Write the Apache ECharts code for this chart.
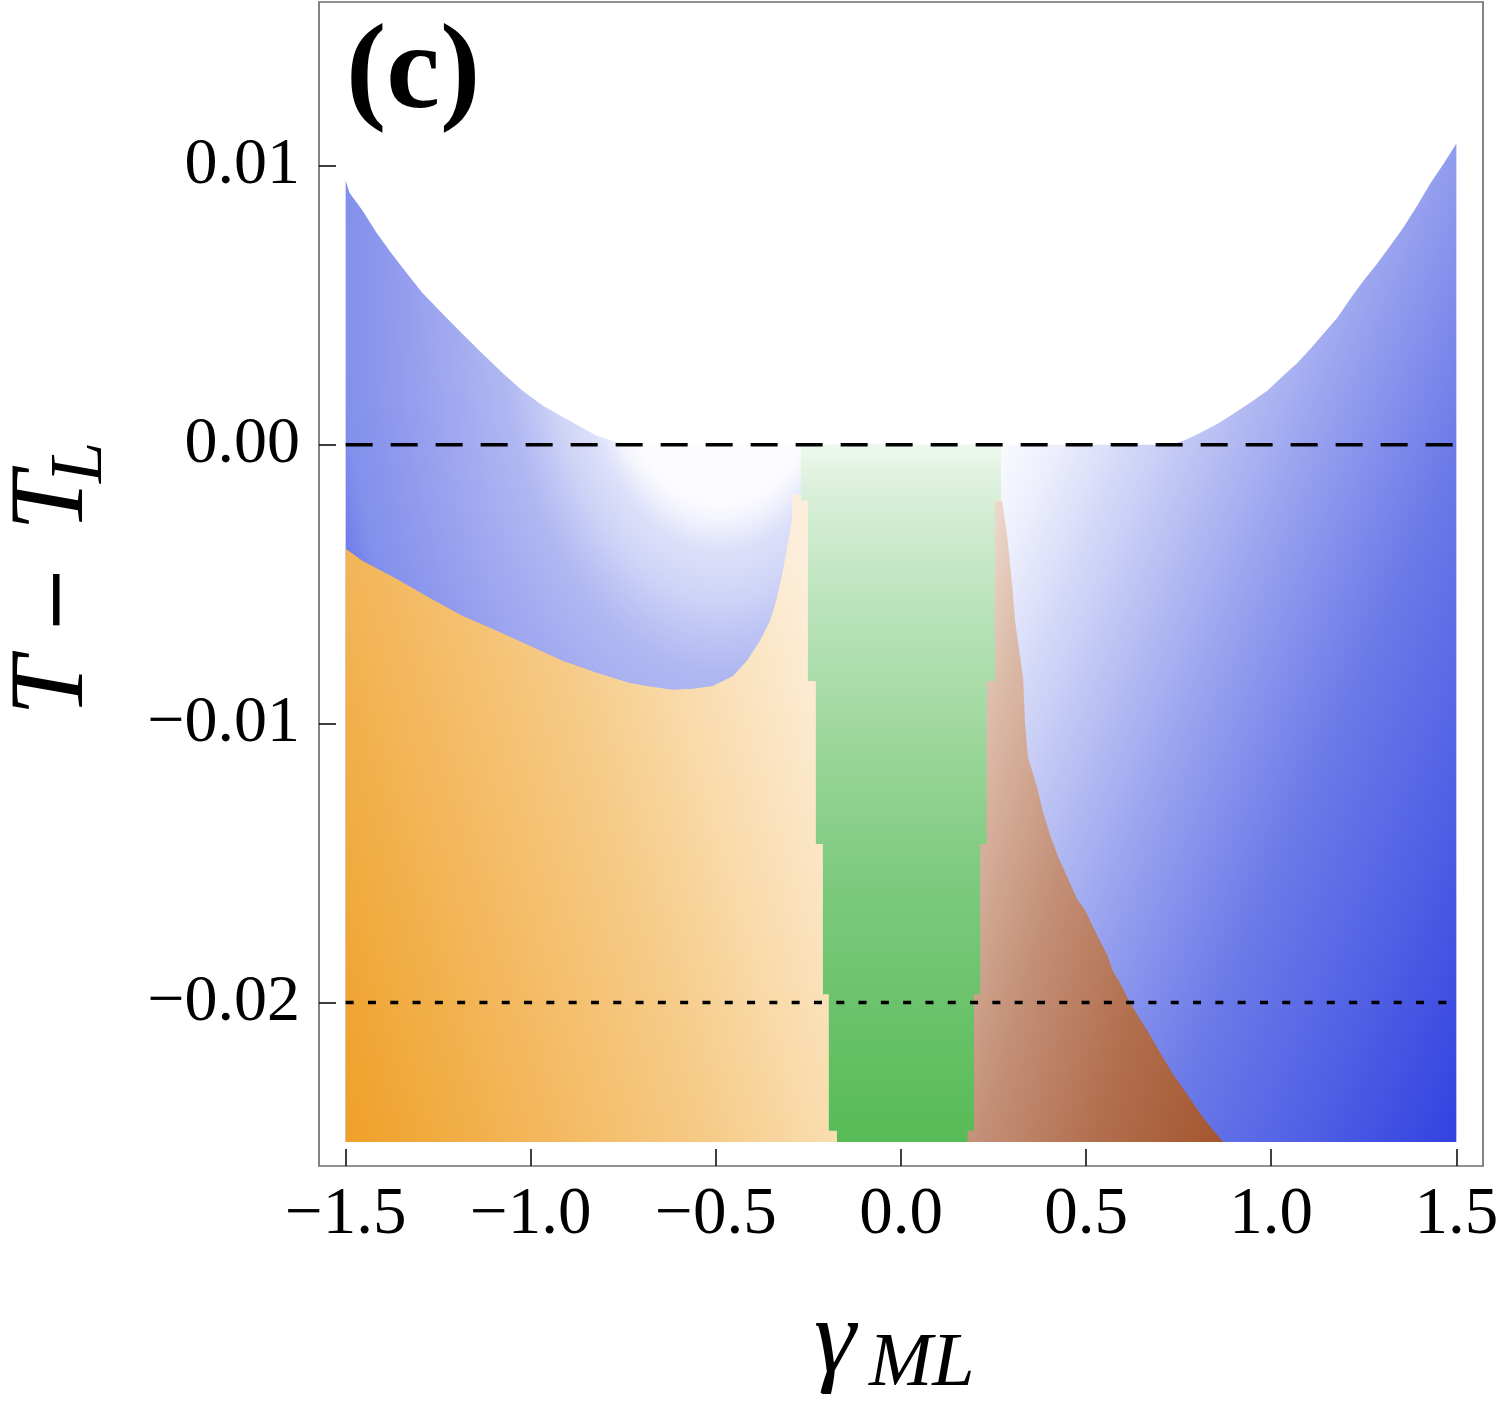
<!DOCTYPE html>
<html><head><meta charset="utf-8">
<script src="https://cdn.jsdelivr.net/npm/echarts@6/dist/echarts.min.js"></script>
<style>html,body{margin:0;padding:0;background:#fff}#c{width:1500px;height:1402px}</style>
</head><body><div id="c"></div>
<script>
// ---------- data ----------
const xTicks = [-1.5, -1.0, -0.5, 0, 0.5, 1.0, 1.5];
const xTickLabels = ['−1.5', '−1.0', '−0.5', '0.0', '0.5', '1.0', '1.5'];
const yTicks = [-0.02, -0.01, 0, 0.01];
const yTickLabels = ['−0.02', '−0.01', '0.00', '0.01'];
const xRange = [-1.572, 1.572];
const yRange = [-0.02586, 0.01587];
const xDataMin = -1.5, xDataMax = 1.5, yDataMin = -0.025;

// upper boundary of the left blue region
const leftCurve = [[-1.500,0.00947],[-1.490,0.00904],[-1.455,0.00840],[-1.417,0.00761],[-1.382,0.00696],[-1.347,0.00635],[-1.293,0.00545],[-1.239,0.00470],[-1.185,0.00398],[-1.131,0.00327],[-1.077,0.00258],[-1.023,0.00194],[-0.968,0.00140],[-0.895,0.00086],[-0.822,0.00032],[-0.779,0.00014],[-0.733,0]];
// upper boundary of the right blue region
const rightCurve = [[0.727,0],[0.763,0.00014],[0.809,0.00043],[0.855,0.00075],[0.898,0.00111],[0.944,0.00151],[0.990,0.00194],[1.033,0.00248],[1.071,0.00294],[1.106,0.00344],[1.141,0.00398],[1.179,0.00456],[1.214,0.00524],[1.249,0.00588],[1.287,0.00650],[1.322,0.00714],[1.357,0.00779],[1.395,0.00858],[1.430,0.00937],[1.466,0.01008],[1.500,0.01080]];
// upper boundary of the orange region
const orangeTop = [[-1.500,-0.00373],[-1.455,-0.00416],[-1.363,-0.00481],[-1.274,-0.00549],[-1.184,-0.00614],[-1.092,-0.00667],[-1.003,-0.00721],[-0.914,-0.00775],[-0.822,-0.00818],[-0.733,-0.00854],[-0.687,-0.00865],[-0.617,-0.00879],[-0.562,-0.00875],[-0.508,-0.00865],[-0.454,-0.00829],[-0.416,-0.00775],[-0.381,-0.00703],[-0.354,-0.00632],[-0.335,-0.00549],[-0.319,-0.00452],[-0.308,-0.00370],[-0.295,-0.00273],[-0.292,-0.00179]];
// green band: step edges
const stepY = [0, -0.0020, -0.00847, -0.01432, -0.0197, -0.0246, -0.025];
const greenLeftX = [-0.270, -0.2515, -0.230, -0.211, -0.195, -0.173];
const greenRightX = [0.270, 0.254, 0.231, 0.214, 0.197, 0.180];
// right boundary of the brown region
const brownEdge = [[0.273,-0.0020],[0.287,-0.0033],[0.300,-0.0050],[0.308,-0.0063],[0.330,-0.0084],[0.335,-0.0100],[0.343,-0.0112],[0.368,-0.0123],[0.384,-0.0132],[0.403,-0.0140],[0.425,-0.0148],[0.449,-0.0155],[0.476,-0.0163],[0.498,-0.0167],[0.519,-0.0173],[0.538,-0.0178],[0.557,-0.0183],[0.573,-0.0189],[0.592,-0.0193],[0.611,-0.0198],[0.627,-0.0202],[0.646,-0.0206],[0.665,-0.0210],[0.700,-0.0218],[0.736,-0.0226],[0.773,-0.0233],[0.809,-0.0240],[0.844,-0.0246],[0.871,-0.0250]];
// reference lines
const dashedY = 0;
const dottedY = -0.02;

// ---------- polygons built from the arrays ----------
const blueLeftPoly = [[xDataMin, yDataMin]].concat(leftCurve, [[0, 0], [0, yDataMin]]);
const blueRightPoly = [[0, yDataMin], [0, 0]].concat(rightCurve, [[xDataMax, yDataMin]]);
const lastO = orangeTop[orangeTop.length - 1];
const orangePoly = [[xDataMin, yDataMin]].concat(orangeTop, [[-0.17, lastO[1]], [-0.17, yDataMin]]);
const brownPoly = [[0.17, brownEdge[0][1]]].concat(brownEdge, [[0.17, yDataMin]]);
const greenPoly = [];
for (let i = 0; i < greenLeftX.length; i++) { greenPoly.push([greenLeftX[i], stepY[i]], [greenLeftX[i], stepY[i + 1]]); }
for (let i = greenRightX.length - 1; i >= 0; i--) { greenPoly.push([greenRightX[i], stepY[i + 1]], [greenRightX[i], stepY[i]]); }

// ---------- styles ----------
function stopsOf(stops) { return stops.map(s => ({ offset: s[0], color: s[1] })); }
function linear(api, a, b, stops) {
  const p = api.coord(a), q = api.coord(b);
  return { type: 'linear', x: p[0], y: p[1], x2: q[0], y2: q[1], global: true, colorStops: stopsOf(stops) };
}
// elliptical shading: polygon drawn in a y-scaled local frame
const blueLeftShade = { center: [-0.489, 0.00517], rx: 1.136, squash: 1.7,
  stops: [[0,'#ffffff'],[0.28,'#fcfcff'],[0.305,'#f4f5fd'],[0.32,'#eceefc'],[0.35,'#dde0f9'],[0.41,'#d0d5f7'],[0.49,'#b8bff3'],[0.52,'#b0b8f2'],[0.75,'#949dee'],[0.9,'#8190ec'],[0.96,'#6c7be8'],[1,'#6676e7']] };
const fills = {
  blueRight: api => linear(api, [0.416, 0.00617], [2.155, -0.00373],
    [[0,'#ffffff'],[0.1,'#eceefc'],[0.3,'#b9c0f3'],[0.45,'#939eee'],[0.625,'#6c7ae8'],[0.8,'#5362e5'],[1,'#3544e0']]),
  orange: api => linear(api, [-1.5, -0.025], [0.065, -0.01877],
    [[0,'#efa027'],[0.28,'#f3b557'],[0.58,'#f6cb88'],[0.75,'#f9dbab'],[1,'#fdeedb']]),
  brown: api => linear(api, [0.016, -0.00865], [1.145, -0.0131],
    [[0,'#f0e0d5'],[0.08,'#ecd8cb'],[0.2,'#dcbcaa'],[0.45,'#c49078'],[0.7,'#b2704f'],[1,'#a3552e']]),
  green: api => linear(api, [0, 0], [0, -0.025],
    [[0,'#eef8ee'],[0.08,'#d6eed6'],[0.2,'#c0e5c0'],[0.36,'#a7dba7'],[0.48,'#92d392'],[0.64,'#7cc97c'],[0.8,'#6bc36b'],[1,'#56bb56']])
};

function regionSeries(name, poly, fill, z) {
  return {
    type: 'custom', name: name, coordinateSystem: 'cartesian2d', silent: true, z: z,
    data: [poly[0]],
    renderItem: function (params, api) {
      return { type: 'polygon', shape: { points: poly.map(p => api.coord(p)) },
        style: { fill: fill(api), stroke: null } };
    }
  };
}
function ellipseShadedSeries(name, poly, shade, z) {
  return {
    type: 'custom', name: name, coordinateSystem: 'cartesian2d', silent: true, z: z,
    data: [poly[0]],
    renderItem: function (params, api) {
      const k = shade.squash;
      const pts = poly.map(p => { const c = api.coord(p); return [c[0], c[1] / k]; });
      const c0 = api.coord(shade.center);
      const r = api.size([shade.rx, 0])[0];
      return { type: 'polygon', scaleY: k, shape: { points: pts },
        style: { stroke: null, fill: { type: 'radial', x: c0[0], y: c0[1] / k, r: r, global: true, colorStops: stopsOf(shade.stops) } } };
    }
  };
}
function lineSeries(name, yv, dash) {
  return { type: 'line', name: name, silent: true, z: 10, symbol: 'none', animation: false,
    data: [[xDataMin, yv], [xDataMax, yv]],
    lineStyle: { color: '#000', width: 3.5, type: dash } };
}
function labelFor(ticks, labels) {
  return v => { const i = ticks.findIndex(t => Math.abs(t - v) < 1e-9); return i >= 0 ? labels[i] : ''; };
}

const serif = '"Liberation Serif", "DejaVu Serif", serif';
const chart = echarts.init(document.getElementById('c'), null, { renderer: 'canvas' });
chart.setOption({
  animation: false,
  backgroundColor: '#fff',
  grid: { left: 319, right: 17, top: 2, bottom: 236, show: true, borderColor: '#6e6e6e', borderWidth: 1.7,
    containLabel: false, outerBoundsMode: 'none' },
  xAxis: {
    type: 'value', min: xRange[0], max: xRange[1],
    axisLine: { show: false, onZero: false }, splitLine: { show: false },
    axisTick: { show: true, inside: true, length: 17, customValues: xTicks, lineStyle: { color: '#000', width: 1.5 } },
    axisLabel: { customValues: xTicks, formatter: labelFor(xTicks, xTickLabels), fontSize: 67, fontFamily: serif, color: '#000', margin: 16 }
  },
  yAxis: {
    type: 'value', min: yRange[0], max: yRange[1],
    axisLine: { show: false, onZero: false }, splitLine: { show: false },
    axisTick: { show: true, inside: true, length: 17, customValues: yTicks, lineStyle: { color: '#000', width: 1.5 } },
    axisLabel: { customValues: yTicks, formatter: labelFor(yTicks, yTickLabels), fontSize: 66, fontFamily: serif, color: '#000', margin: 19 }
  },
  series: [
    ellipseShadedSeries('blueLeft', blueLeftPoly, blueLeftShade, 1),
    regionSeries('blueRight', blueRightPoly, fills.blueRight, 1),
    regionSeries('orange', orangePoly, fills.orange, 2),
    regionSeries('brown', brownPoly, fills.brown, 2),
    regionSeries('green', greenPoly, fills.green, 3),
    lineSeries('dashed', dashedY, [27, 18]),
    lineSeries('dotted', dottedY, [8, 14.3])
  ],
  graphic: [
    { type: 'text', x: 346, y: 76, style: { text: '(c)', fontFamily: serif, fontWeight: 'bold', fontSize: 121, fill: '#000', align: 'left', verticalAlign: 'middle' } },
    { type: 'text', x: 54, y: 716, rotation: Math.PI / 2, style: { text: 'T', fontFamily: serif, fontStyle: 'italic', fontSize: 106, fill: '#000', align: 'left', verticalAlign: 'middle' } },
    { type: 'text', x: 61, y: 634, rotation: Math.PI / 2, style: { text: '−', fontFamily: '"DejaVu Serif", serif', fontSize: 82, fill: '#000', align: 'left', verticalAlign: 'middle' } },
    { type: 'text', x: 54, y: 531, rotation: Math.PI / 2, style: { text: 'T', fontFamily: serif, fontStyle: 'italic', fontSize: 106, fill: '#000', align: 'left', verticalAlign: 'middle' } },
    { type: 'text', x: 82, y: 483, rotation: Math.PI / 2, style: { text: 'L', fontFamily: serif, fontStyle: 'italic', fontSize: 74, fill: '#000', align: 'left', verticalAlign: 'middle' } },
    { type: 'text', x: 814, y: 1343, style: { text: 'γ', fontFamily: serif, fontStyle: 'italic', fontSize: 106, fill: '#000', align: 'left', verticalAlign: 'middle' } },
    { type: 'text', x: 869, y: 1365, style: { text: 'ML', fontFamily: serif, fontStyle: 'italic', fontSize: 76, fill: '#000', align: 'left', verticalAlign: 'middle' } }
  ]
});
</script>
</body></html>
